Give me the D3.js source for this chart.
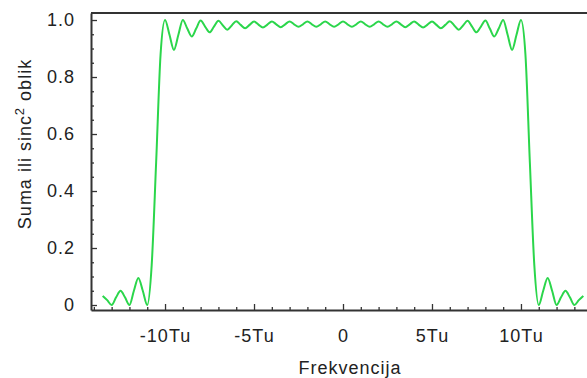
<!DOCTYPE html>
<html>
<head>
<meta charset="utf-8">
<script src="https://cdn.jsdelivr.net/npm/d3@7"></script>
<style>
  body { margin: 0; background: #fff; }
  svg text { font-family: "Liberation Sans", Arial, sans-serif; fill: #222; }
</style>
</head>
<body>
<svg id="chart"></svg>
<script>
// frequency samples (units of Tu)
const freq = [
  -13.5, -13.25, -13, -12.75, -12.5, -12.25, -12, -11.75, -11.5, -11.25,
  -11, -10.75, -10.5, -10.25, -10, -9.75, -9.5, -9.25, -9, -8.75,
  -8.5, -8.25, -8, -7.75, -7.5, -7.25, -7, -6.75, -6.5, -6.25,
  -6, -5.75, -5.5, -5.25, -5, -4.75, -4.5, -4.25, -4, -3.75,
  -3.5, -3.25, -3, -2.75, -2.5, -2.25, -2, -1.75, -1.5, -1.25,
  -1, -0.75, -0.5, -0.25, 0, 0.25, 0.5, 0.75, 1, 1.25,
  1.5, 1.75, 2, 2.25, 2.5, 2.75, 3, 3.25, 3.5, 3.75,
  4, 4.25, 4.5, 4.75, 5, 5.25, 5.5, 5.75, 6, 6.25,
  6.5, 6.75, 7, 7.25, 7.5, 7.75, 8, 8.25, 8.5, 8.75,
  9, 9.25, 9.5, 9.75, 10, 10.25, 10.5, 10.75, 11, 11.25,
  11.5, 11.75, 12, 12.25, 12.5, 12.75, 13, 13.25, 13.5
];
const suma = [
  0.032, 0.017, 0.0, 0.027, 0.05, 0.027, 0.0, 0.05, 0.095, 0.05,
  0.0, 0.14, 0.5, 0.88, 1.0, 0.948, 0.895, 0.948, 1.0, 0.97,
  0.942, 0.97, 0.998, 0.977, 0.957, 0.977, 0.997, 0.981, 0.966, 0.981,
  0.996, 0.983, 0.971, 0.983, 0.995, 0.984, 0.974, 0.984, 0.995, 0.985,
  0.975, 0.985, 0.995, 0.985, 0.976, 0.985, 0.995, 0.985, 0.976, 0.985,
  0.995, 0.985, 0.976, 0.985, 0.995, 0.985, 0.976, 0.985, 0.995, 0.985,
  0.976, 0.985, 0.995, 0.985, 0.976, 0.985, 0.995, 0.985, 0.975, 0.985,
  0.995, 0.984, 0.974, 0.984, 0.995, 0.983, 0.971, 0.983, 0.996, 0.981,
  0.966, 0.981, 0.997, 0.977, 0.957, 0.977, 0.998, 0.97, 0.942, 0.97,
  1.0, 0.948, 0.895, 0.948, 1.0, 0.88, 0.5, 0.14, 0.0, 0.05,
  0.095, 0.05, 0.0, 0.027, 0.05, 0.027, 0.0, 0.017, 0.032
];
const xTicks = [-10, -5, 0, 5, 10];
const xTickLabels = ["-10Tu", "-5Tu", "0", "5Tu", "10Tu"];
const xMinor = [-14, -13, -12, -11, -9, -8, -7, -6, -4, -3, -2, -1, 1, 2, 3, 4, 6, 7, 8, 9, 11, 12, 13, 14];
const yTicks = [0, 0.2, 0.4, 0.6, 0.8, 1.0];
const yTickLabels = ["0", "0.2", "0.4", "0.6", "0.8", "1.0"];
const yMinor = [0.05, 0.1, 0.15, 0.25, 0.3, 0.35, 0.45, 0.5, 0.55, 0.65, 0.7, 0.75, 0.85, 0.9, 0.95];

const width = 587, height = 378;
const svg = d3.select('#chart').attr('width', width).attr('height', height);

const xscale = d3.scaleLinear().domain([-14.16, 14.16]).range([91, 595]);
const yscale = d3.scaleLinear().domain([-0.0175, 1.0246]).range([310, 13]);

const axisColor = '#333';

// minor ticks
svg.append('g')
    .attr('transform', `translate(0, ${yscale.range()[0]})`)
    .call(d3.axisBottom(xscale).tickValues(xMinor).tickSize(-3).tickSizeOuter(0).tickFormat(''))
    .call(g => g.select('.domain').remove());
svg.append('g')
    .attr('transform', `translate(${xscale.range()[0]}, 0)`)
    .call(d3.axisLeft(yscale).tickValues(yMinor).tickSize(-3).tickSizeOuter(0).tickFormat(''))
    .call(g => g.select('.domain').remove());

// major axes
const xaxis = svg.append('g')
    .attr('transform', `translate(0, ${yscale.range()[0]})`)
    .call(d3.axisBottom(xscale).tickValues(xTicks).tickSize(-6).tickSizeOuter(0)
        .tickPadding(19).tickFormat((d, i) => xTickLabels[i]));
const yaxis = svg.append('g')
    .attr('transform', `translate(${xscale.range()[0]}, 0)`)
    .call(d3.axisLeft(yscale).tickValues(yTicks).tickSize(-6).tickSizeOuter(0)
        .tickPadding(16).tickFormat((d, i) => yTickLabels[i]));

svg.selectAll('.tick line').attr('stroke', axisColor).attr('stroke-width', 1.3);
svg.selectAll('.domain').attr('stroke', axisColor).attr('stroke-width', 2);
svg.selectAll('.tick text')
    .style('font-size', '18px')
    .style('letter-spacing', '1px')
    .attr('fill', '#222');

// top frame line
svg.append('line')
    .attr('x1', xscale.range()[0]).attr('x2', xscale.range()[1])
    .attr('y1', yscale.range()[1]).attr('y2', yscale.range()[1])
    .attr('stroke', axisColor).attr('stroke-width', 2);

// curve
const line = d3.line()
    .x((d, i) => xscale(freq[i]))
    .y(d => yscale(d))
    .curve(d3.curveMonotoneX);
svg.append('path')
    .datum(suma)
    .attr('d', line)
    .attr('fill', 'none')
    .attr('stroke', '#2bd64b')
    .attr('stroke-width', 2);

// axis titles
svg.append('text')
    .attr('x', 350).attr('y', 374)
    .attr('text-anchor', 'middle')
    .style('font-size', '18px')
    .style('letter-spacing', '1px')
    .text('Frekvencija');

const ylab = svg.append('text')
    .attr('transform', 'translate(31, 144) rotate(-90)')
    .attr('text-anchor', 'middle')
    .style('font-size', '18px')
    .style('letter-spacing', '1px');
ylab.append('tspan').text('Suma ili sinc');
ylab.append('tspan').attr('dy', -7).style('font-size', '13px').text('2');
ylab.append('tspan').attr('dy', 7).text(' oblik');
</script>
</body>
</html>
